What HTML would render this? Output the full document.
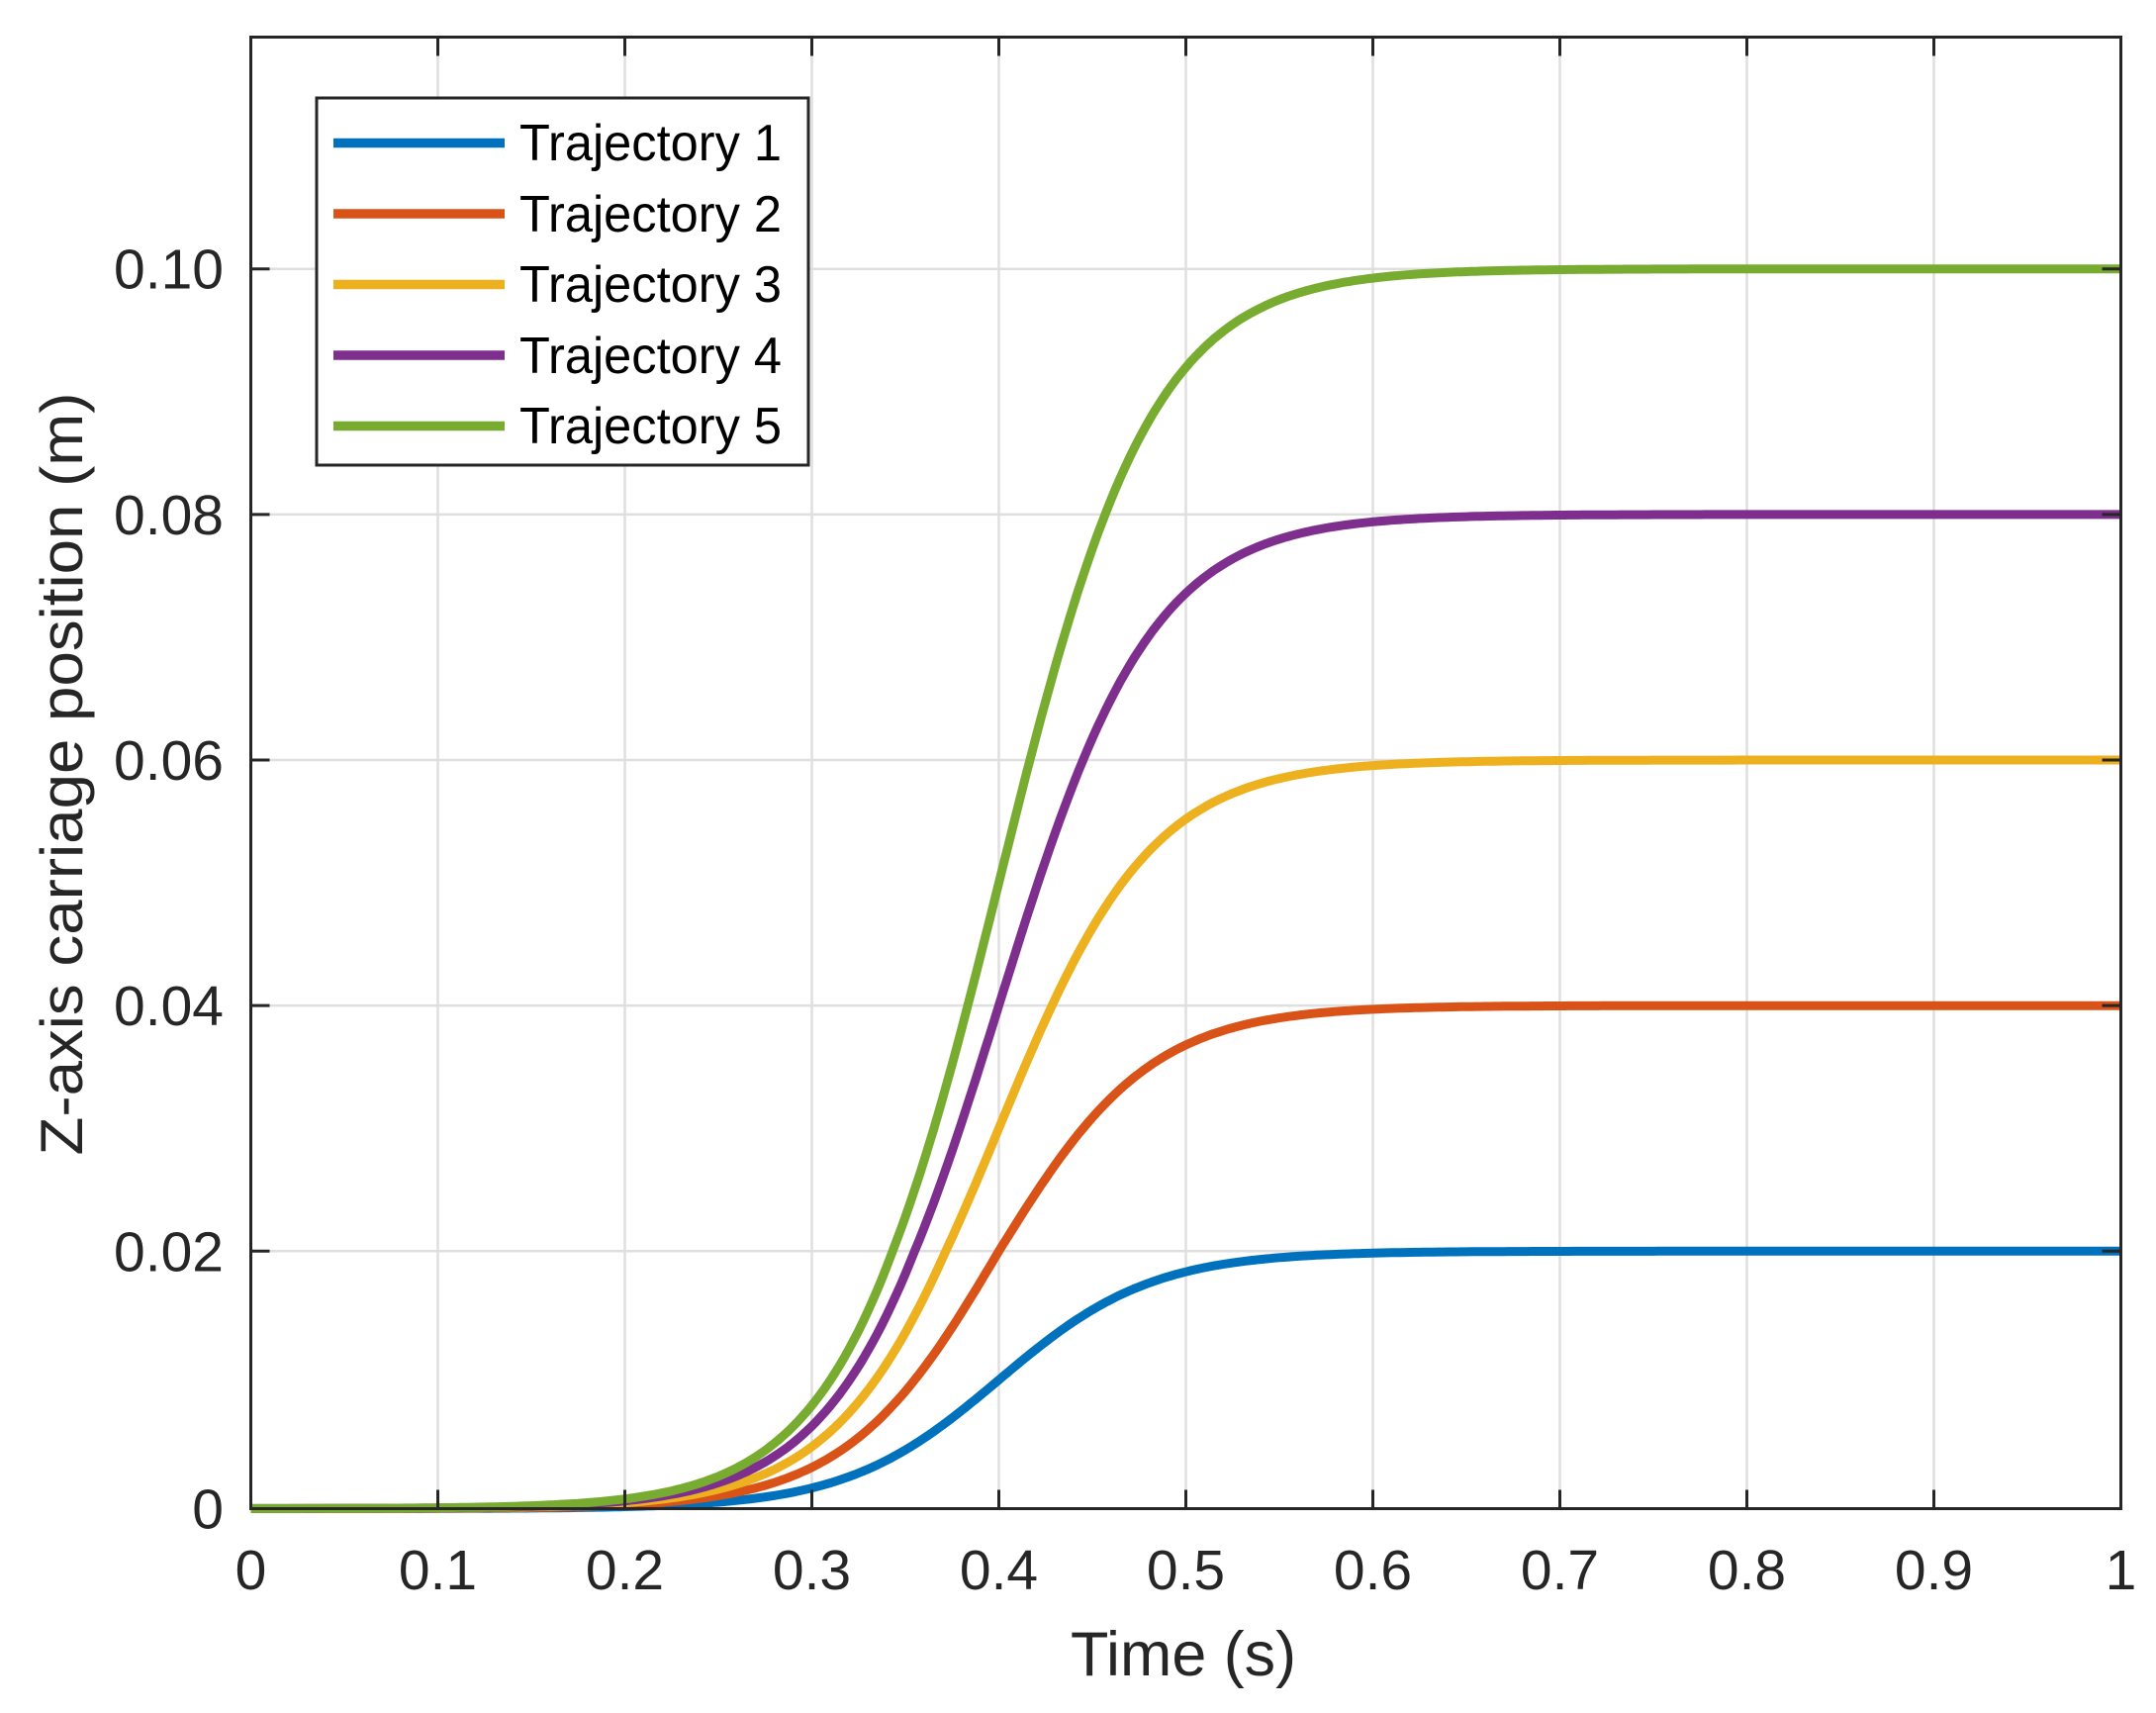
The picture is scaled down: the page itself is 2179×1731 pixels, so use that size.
<!DOCTYPE html>
<html><head><meta charset="utf-8"><style>
html,body{margin:0;padding:0;background:#fff;}
svg{display:block;font-family:"Liberation Sans",Arial,sans-serif;}
</style></head><body>
<svg id="s" width="2179" height="1731" viewBox="0 0 2179 1731" xmlns="http://www.w3.org/2000/svg">
<rect width="2179" height="1731" fill="#fff"/>
<g id="grid" stroke="#dfdfdf" stroke-width="2.5"></g>
<g id="curves" fill="none" stroke-width="9" stroke-linejoin="round"></g>
<rect x="253.5" y="37.5" width="1890" height="1487" fill="none" stroke="#262626" stroke-width="3"/>
<g id="ticks" stroke="#262626" stroke-width="3"></g>
<g id="labels" fill="#262626" font-size="57"></g>
<text x="1196" y="1693" font-size="63" text-anchor="middle" fill="#262626" textLength="228" lengthAdjust="spacingAndGlyphs">Time (s)</text>
<text transform="translate(83,782) rotate(-90)" font-size="60" text-anchor="middle" fill="#262626" textLength="771" lengthAdjust="spacingAndGlyphs">Z-axis carriage position (m)</text>
<rect x="320" y="99" width="497" height="371" fill="#fff" stroke="#262626" stroke-width="3"/>
<g stroke-width="9.5">
<line x1="337" y1="144.5" x2="510" y2="144.5" stroke="#0072BD"/>
<line x1="337" y1="216" x2="510" y2="216" stroke="#D95319"/>
<line x1="337" y1="287.5" x2="510" y2="287.5" stroke="#EDB120"/>
<line x1="337" y1="359" x2="510" y2="359" stroke="#7E2F8E"/>
<line x1="337" y1="430.5" x2="510" y2="430.5" stroke="#77AC30"/>
</g>
<g font-size="52" fill="#000" lengthAdjust="spacingAndGlyphs">
<text x="525" y="162" textLength="265" lengthAdjust="spacingAndGlyphs">Trajectory 1</text>
<text x="525" y="234" textLength="265" lengthAdjust="spacingAndGlyphs">Trajectory 2</text>
<text x="525" y="305" textLength="265" lengthAdjust="spacingAndGlyphs">Trajectory 3</text>
<text x="525" y="377" textLength="265" lengthAdjust="spacingAndGlyphs">Trajectory 4</text>
<text x="525" y="448" textLength="265" lengthAdjust="spacingAndGlyphs">Trajectory 5</text>
</g>
</svg>
<script>
var NS="http://www.w3.org/2000/svg";
function el(p,t,a,txt){var e=document.createElementNS(NS,t);for(var k in a)e.setAttribute(k,a[k]);if(txt!==undefined)e.textContent=txt;document.getElementById(p).appendChild(e);return e;}
var L=253.5,R=2143.5,T=37.5,B=1524.5,dx=189;
function Y(v){if(v<=0.02)return 1524.5-(v/0.02)*(1524.5-1264.3);return 1264.3-(v-0.02)/0.02*248.15;}
for(var i=1;i<10;i++){var x=L+i*dx;el("grid","line",{x1:x,y1:T,x2:x,y2:B});}
for(var j=1;j<=5;j++){var y=Y(0.02*j);el("grid","line",{x1:L,y1:y,x2:R,y2:y});}
for(var i=0;i<=10;i++){var x=L+i*dx;el("ticks","line",{x1:x,y1:B,x2:x,y2:B-19});el("ticks","line",{x1:x,y1:T,x2:x,y2:T+19});
 var s=i==0?"0":i==10?"1":"0."+i;el("labels","text",{x:x,y:1606,"text-anchor":"middle"},s);}
var yl=["0","0.02","0.04","0.06","0.08","0.10"];
for(var j=0;j<=5;j++){var y=Y(0.02*j);el("ticks","line",{x1:L,y1:y,x2:L+19,y2:y});el("ticks","line",{x1:R,y1:y,x2:R-19,y2:y});
 el("labels","text",{x:226,y:y+20,"text-anchor":"end"},yl[j]);}
var cols=["#0072BD","#D95319","#EDB120","#7E2F8E","#77AC30"];
for(var c=0;c<5;c++){var A=0.02*(c+1),d="";
 for(var n=0;n<=400;n++){var t=n/400;var v=A/(1+Math.exp(-24.4*(t-0.4)));var X=L+t*1890;d+=(n?"L":"M")+X.toFixed(1)+" "+Y(v).toFixed(1);}
 el("curves","path",{d:d,stroke:cols[c]});}
</script>
</body></html>
